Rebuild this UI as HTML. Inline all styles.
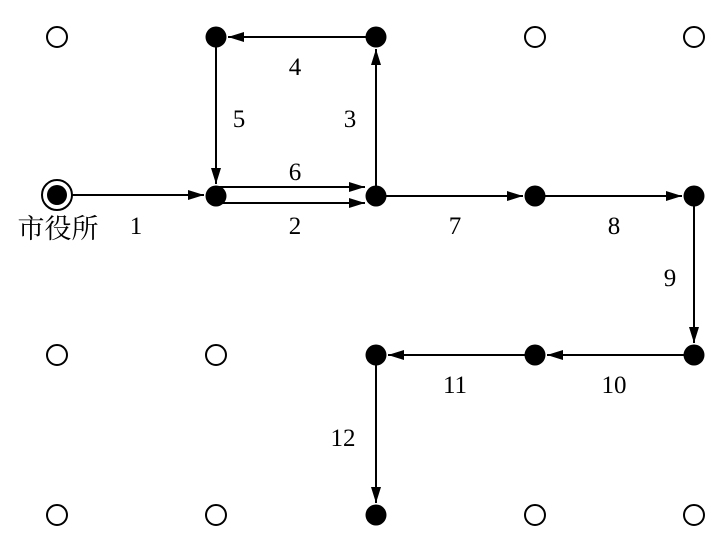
<!DOCTYPE html>
<html><head><style>body{margin:0;background:#fff}svg{display:block}</style></head><body>
<svg width="726" height="552" viewBox="0 0 726 552" xmlns="http://www.w3.org/2000/svg">
<defs><marker id="a" markerWidth="16" markerHeight="10" refX="16" refY="5" orient="auto" markerUnits="userSpaceOnUse"><path d="M0,0 L16,5 L0,10 Z" fill="#000"/></marker></defs>
<g fill="none" stroke="#000" stroke-width="2">
<circle cx="57" cy="37" r="10"/><circle cx="535" cy="37" r="10"/><circle cx="694" cy="37" r="10"/>
<circle cx="57" cy="355" r="10"/><circle cx="216" cy="355" r="10"/>
<circle cx="57" cy="515" r="10"/><circle cx="216" cy="515" r="10"/><circle cx="535" cy="515" r="10"/><circle cx="694" cy="515" r="10"/>
<circle cx="57" cy="195" r="15"/>
</g>
<g stroke="#000" stroke-width="2" marker-end="url(#a)">
<line x1="72" y1="195" x2="204" y2="195"/>
<line x1="216" y1="203" x2="365" y2="203"/>
<line x1="376" y1="196" x2="376" y2="49"/>
<line x1="376" y1="37" x2="228" y2="37"/>
<line x1="216" y1="37" x2="216" y2="184"/>
<line x1="216" y1="187" x2="365" y2="187"/>
<line x1="376" y1="196" x2="523" y2="196"/>
<line x1="535" y1="196" x2="682" y2="196"/>
<line x1="694" y1="196" x2="694" y2="343"/>
<line x1="694" y1="355" x2="547" y2="355"/>
<line x1="535" y1="355" x2="388" y2="355"/>
<line x1="376" y1="355" x2="376" y2="503"/>
</g>
<g fill="#000">
<circle cx="57" cy="195" r="10"/>
<circle cx="216" cy="37" r="10.5"/><circle cx="376" cy="37" r="10.5"/>
<circle cx="216" cy="196" r="10.5"/><circle cx="376" cy="196" r="10.5"/><circle cx="535" cy="196" r="10.5"/><circle cx="694" cy="196" r="10.5"/>
<circle cx="376" cy="355" r="10.5"/><circle cx="535" cy="355" r="10.5"/><circle cx="694" cy="355" r="10.5"/>
<circle cx="376" cy="515" r="10.5"/>
</g>
<g font-family="Liberation Serif, serif" font-size="25" text-anchor="middle" fill="#000">
<text x="136" y="234">1</text>
<text x="295" y="234">2</text>
<text x="350" y="127">3</text>
<text x="295" y="75">4</text>
<text x="239" y="127">5</text>
<text x="295" y="180">6</text>
<text x="455" y="234">7</text>
<text x="614" y="234">8</text>
<text x="670" y="286">9</text>
<text x="614" y="393">10</text>
<text x="455" y="393">11</text>
<text x="343" y="446">12</text>
</g>
<text x="58" y="238" font-family="Liberation Serif, 'Noto Serif CJK SC', serif" font-size="27" text-anchor="middle" fill="#000">市役所</text>
</svg>
</body></html>
